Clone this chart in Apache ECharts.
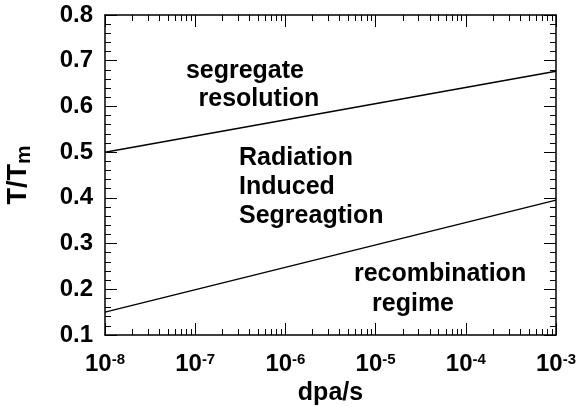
<!DOCTYPE html>
<html>
<head>
<meta charset="utf-8">
<script src="https://cdn.jsdelivr.net/npm/echarts@6/dist/echarts.min.js"></script>
<style>
  html, body { margin: 0; padding: 0; background: #fff; }
  #chart { width: 578px; height: 406px; }
</style>
</head>
<body>
<div id="chart"></div>
<script>
// boundary lines (dpa/s, T/Tm)
const upperBoundary = [[1e-8, 0.50], [1e-3, 0.677]]
const lowerBoundary = [[1e-8, 0.15], [1e-3, 0.395]]

// region annotations: [dpa/s, T/Tm, text, align]
const regionLabels = [
  [3.56e-7, 0.677, 'segregate', 'center'],
  [5.09e-7, 0.615, 'resolution', 'center'],
  [3.06e-7, 0.487, 'Radiation', 'left'],
  [3.06e-7, 0.424, 'Induced', 'left'],
  [3.06e-7, 0.359, 'Segreagtion', 'left'],
  [5.18e-5, 0.233, 'recombination', 'center'],
  [2.60e-5, 0.168, 'regime', 'center']
]

const xMin = 1e-8
const xMax = 1e-3
const yMin = 0.1
const yMax = 0.8

// log minor ticks 2..9 in each decade
const decades = [-8, -7, -6, -5, -4]
const minorX = []
decades.forEach(d => {
  for (let m = 2; m <= 9; m++) minorX.push(m * Math.pow(10, d))
})

const font = "'Liberation Sans', Arial, Helvetica, sans-serif"
const black = '#000'

const myChart = echarts.init(document.getElementById('chart'))

function logAxis(position, major, labels) {
  return {
    type: 'log',
    logBase: 10,
    min: xMin,
    max: xMax,
    position: position,
    splitLine: { show: false },
    axisLine: { show: major, onZero: false, lineStyle: { color: black, width: 1.5 } },
    axisTick: major
      ? { show: true, inside: true, length: 12, lineStyle: { color: black, width: 1 } }
      : { show: true, inside: true, length: 6, customValues: minorX, lineStyle: { color: black, width: 1 } },
    axisLabel: labels
      ? {
          show: true,
          margin: 17,
          formatter: v => '{b|10}{s|' + Math.round(Math.log10(v)) + '}',
          rich: {
            b: { fontFamily: font, fontWeight: 'bold', fontSize: 24, color: black },
            s: { fontFamily: font, fontWeight: 'bold', fontSize: 15, color: black, verticalAlign: 'top' }
          }
        }
      : { show: false }
  }
}

function valAxis(position, labels) {
  return {
    type: 'value',
    min: yMin,
    max: yMax,
    interval: 0.1,
    position: position,
    splitLine: { show: false },
    axisLine: { show: true, onZero: false, lineStyle: { color: black, width: 1.5 } },
    axisTick: { show: true, inside: true, length: 12, lineStyle: { color: black, width: 1 } },
    minorTick: { show: true, splitNumber: 5, length: 6, lineStyle: { color: black, width: 1 } },
    axisLabel: labels
      ? {
          show: true,
          margin: 12,
          padding: [6, 0, 0, 0],
          fontFamily: font,
          fontWeight: 'bold',
          fontSize: 24,
          color: black,
          formatter: v => v.toFixed(1)
        }
      : { show: false }
  }
}

const xBottom = logAxis('bottom', true, true)
xBottom.name = 'dpa/s'
xBottom.nameLocation = 'middle'
xBottom.nameGap = 45
xBottom.nameTextStyle = { fontFamily: font, fontWeight: 'bold', fontSize: 25, color: black }

const yLeft = valAxis('left', true)
yLeft.name = '{t|T/T}{m|m}'
yLeft.nameLocation = 'middle'
yLeft.nameRotate = 90
yLeft.nameGap = 70
yLeft.nameTextStyle = {
  rich: {
    t: { fontFamily: font, fontWeight: 'bold', fontSize: 27, color: black },
    m: { fontFamily: font, fontWeight: 'bold', fontSize: 21, color: black, padding: [12, 0, 0, 0], verticalAlign: 'bottom' }
  }
}

const options = {
  animation: false,
  backgroundColor: '#fff',
  grid: { left: 105, right: 22, top: 15, bottom: 71, containLabel: false, outerBoundsMode: 'none' },
  xAxis: [
    xBottom,
    logAxis('bottom', false, false),
    logAxis('top', true, false),
    logAxis('top', false, false)
  ],
  yAxis: [yLeft, valAxis('right', false)],
  series: [
    {
      type: 'line',
      data: upperBoundary,
      symbol: 'none',
      lineStyle: { color: black, width: 1.5 }
    },
    {
      type: 'line',
      data: lowerBoundary,
      symbol: 'none',
      lineStyle: { color: black, width: 1.5 }
    },
    {
      type: 'scatter',
      symbolSize: 0,
      itemStyle: { opacity: 1 },
      data: regionLabels.map(r => ({
        value: [r[0], r[1]],
        name: r[2],
        label: { align: r[3] }
      })),
      label: {
        show: true,
        position: 'inside',
        formatter: p => p.name,
        fontFamily: font,
        fontWeight: 'bold',
        fontSize: 25,
        color: black,
        opacity: 1,
        textBorderWidth: 0
      }
    }
  ]
}

myChart.setOption(options, true)
</script>
</body>
</html>
